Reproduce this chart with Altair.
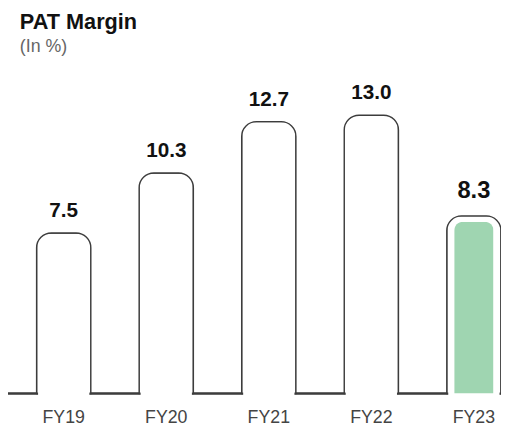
import altair as alt
import pandas as pd

years = ["FY19", "FY20", "FY21", "FY22", "FY23"]
margins = [7.5, 10.3, 12.7, 13.0, 8.3]
labels = ["7.5", "10.3", "12.7", "13.0", "8.3"]
highlight = [False, False, False, False, True]

df = pd.DataFrame({"year": years, "value": margins, "label": labels, "hl": highlight})

W, H = 500, 304
FONT = "Liberation Sans"
LINE = "#3c3c3c"
ysc = alt.Scale(domain=[0, 14])

x = alt.X(
    "year:N",
    sort=years,
    scale=alt.Scale(range=[4.5, 524.5], paddingInner=0, paddingOuter=0),
    axis=alt.Axis(title=None, domain=False, ticks=False, labelFontSize=18,
                  labelColor="#444", labelFont=FONT, labelPadding=15, labelAngle=0),
)
y = alt.Y("value:Q", scale=ysc, axis=None)
yzero = alt.Y("zero:Q", scale=ysc, axis=None)

base = alt.Chart(df).transform_calculate(zero="0")

rule = base.mark_rule(color=LINE, strokeWidth=1.4).encode(
    x=alt.value(0), x2=alt.value(W), y=yzero
)
bars = base.mark_bar(fill="white", stroke=LINE, strokeWidth=1.4, size=55,
                     cornerRadiusTopLeft=15, cornerRadiusTopRight=15).encode(x=x, y=y)
cover = base.mark_tick(color="white", thickness=3, size=52, opacity=1).encode(
    x=x, y=yzero
)
green = (
    base.transform_filter("datum.hl")
    .transform_calculate(inner="datum.value - 0.28")
    .mark_bar(color="#9fd5b1", size=40, cornerRadiusTopLeft=9, cornerRadiusTopRight=9)
    .encode(x=x, y=alt.Y("inner:Q", scale=ysc, axis=None))
)
text_norm = (
    base.transform_filter("!datum.hl")
    .mark_text(baseline="alphabetic", dy=-16, fontWeight="bold", font=FONT,
               fontSize=21, color="#111")
    .encode(x=x, y=y, text="label:N")
)
text_hl = (
    base.transform_filter("datum.hl")
    .mark_text(baseline="alphabetic", dy=-18, fontWeight="bold", font=FONT,
               fontSize=24, color="#111")
    .encode(x=x, y=y, text="label:N")
)

chart = (
    alt.layer(rule, bars, cover, green, text_norm, text_hl)
    .properties(
        width=W,
        height=H,
        autosize="none",
        padding={"left": 0, "top": 84, "right": 0, "bottom": 36},
        title=alt.Title("PAT Margin", subtitle="(In %)", anchor="start", frame="group",
                        font=FONT, fontSize=22, fontWeight="bold", color="#111",
                        subtitleFont=FONT, subtitleFontSize=18, subtitleColor="#666",
                        subtitlePadding=4, dx=12, offset=26),
    )
    .configure_view(stroke=None)
)

chart.save("out.html", embed_options={"renderer": "svg", "actions": False})
